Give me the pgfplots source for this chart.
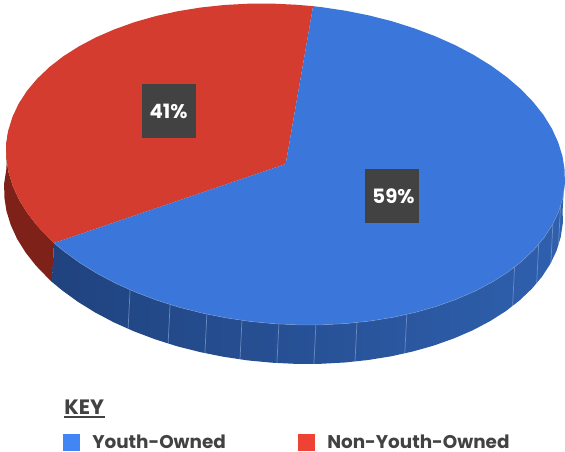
\documentclass[border=0pt]{standalone}
\usepackage{fontspec}
\setmainfont{Poppins}
\usepackage{pgfplots}
\pgfplotsset{compat=1.18}
\definecolor{blueTop}{HTML}{3B76DA}
\definecolor{redTop}{HTML}{D33C2E}
\definecolor{redSide}{HTML}{7E2119}
\definecolor{blueSideL}{HTML}{20437F}
\definecolor{blueSideR}{HTML}{2F60AE}
\definecolor{seam}{HTML}{7E9BCB}
\definecolor{boxGrey}{HTML}{424242}
\definecolor{keyBlue}{HTML}{4285F4}
\definecolor{keyRed}{HTML}{EE4235}
\tikzset{seamline/.style={draw=seam, line width=0.55pt, opacity=0.75}}
\begin{document}
\begin{tikzpicture}
\path[use as bounding box] (0,0) rectangle (423.75pt,339pt);
\begin{axis}[
  scale only axis, width=423.75pt, height=339pt,
  xmin=0, xmax=565, ymin=0, ymax=452, y dir=reverse,
  hide axis, clip=true,
]
% rim of the red slice
\addplot[draw=none, fill=redSide, mark=none] coordinates {
 (8.3,130.4) (6.2,144.2) (6.3,158.2) (8.5,172.2) (12.8,186.1) (19.1,199.9) (27.6,213.5)
 (37.9,226.6) (50.2,239.3) (54,243)
 (52,282) (48.2,278.3) (35.9,265.6) (25.6,252.5) (17.1,238.9) (10.8,225.1) (6.5,211.2)
 (4.3,197.2) (4.2,183.2) (6.3,169.4)
};
% rim of the blue slice
\addplot[draw=none, left color=blueSideL, right color=blueSideR, mark=none] coordinates {
 (54,243) (64.2,251.4) (79.9,262.8) (97.2,273.5) (115.9,283.4) (135.9,292.3) (157.1,300.3)
 (179.2,307.3) (202.2,313.1) (225.7,317.8) (249.7,321.4) (274,323.7) (298.4,324.9)
 (322.7,324.8) (346.7,323.5) (370.2,321) (393.1,317.3) (415.2,312.4) (436.3,306.4)
 (456.2,299.3) (474.9,291.2) (492.1,282.1) (507.7,272.2) (521.6,261.4) (533.8,249.8)
 (544,237.7) (552.3,224.9) (558.6,211.7) (562.7,198.1) (564.8,184.3) (564.7,170.3)
 (562.7,209.3) (562.8,223.3) (560.7,237.1) (556.6,250.7) (550.3,263.9) (542,276.7)
 (531.8,288.8) (519.6,300.4) (505.7,311.2) (490.1,321.1) (472.9,330.2) (454.2,338.3)
 (434.3,345.4) (413.2,351.4) (391.1,356.3) (368.2,360) (344.7,362.5) (320.7,363.8)
 (296.4,363.9) (272,362.7) (247.7,360.4) (223.7,356.8) (200.2,352.1) (177.2,346.3)
 (155.1,339.3) (133.9,331.3) (113.9,322.4) (95.2,312.5) (77.9,301.8) (62.2,290.4) (52,282)
};
% seams between rim panels
\addplot[seamline, mark=none] coordinates {(130.1,289.7) (128.1,328.7)};
\addplot[seamline, mark=none] coordinates {(170.1,304.4) (168.1,343.4)};
\addplot[seamline, mark=none] coordinates {(206.9,314) (204.9,353)};
\addplot[seamline, mark=none] coordinates {(242,320.2) (240,359.2)};
\addplot[seamline, mark=none] coordinates {(278.9,324) (276.9,363)};
\addplot[seamline, mark=none] coordinates {(315.9,324.8) (313.9,363.8)};
\addplot[seamline, mark=none] coordinates {(357,322.4) (355,361.4)};
\addplot[seamline, mark=none] coordinates {(406.8,314.3) (404.8,353.3)};
\addplot[seamline, mark=none] coordinates {(514.6,266.8) (512.6,305.8)};
\addplot[seamline, mark=none] coordinates {(538.7,244) (536.7,283)};
\addplot[seamline, mark=none] coordinates {(552.9,223.6) (550.9,262.6)};
\addplot[seamline, mark=none] coordinates {(560.5,206) (558.5,245)};
% red slice, top face
\addplot[draw=none, fill=redTop, mark=none] coordinates {
 (285.7,164) (313.1,6.2) (297,4.8) (272.6,3.6) (248.3,3.7) (224.3,5) (200.8,7.5) (177.9,11.2)
 (155.8,16.1) (134.7,22.1) (114.8,29.2) (96.1,37.3) (78.9,46.4) (63.3,56.3) (49.4,67.1)
 (37.2,78.7) (27,90.8) (18.7,103.6) (12.5,116.8) (8.3,130.4) (6.2,144.2) (6.3,158.2)
 (8.5,172.2) (12.8,186.1) (19.1,199.9) (27.6,213.5) (37.9,226.6) (50.2,239.3) (54,243)
};
% blue slice, top face
\addplot[draw=none, fill=blueTop, mark=none] coordinates {
 (285.7,164) (54,243) (64.2,251.4) (79.9,262.8) (97.2,273.5) (115.9,283.4) (135.9,292.3)
 (157.1,300.3) (179.2,307.3) (202.2,313.1) (225.7,317.8) (249.7,321.4) (274,323.7)
 (298.4,324.9) (322.7,324.8) (346.7,323.5) (370.2,321) (393.1,317.3) (415.2,312.4)
 (436.3,306.4) (456.2,299.3) (474.9,291.2) (492.1,282.1) (507.7,272.2) (521.6,261.4)
 (533.8,249.8) (544,237.7) (552.3,224.9) (558.6,211.7) (562.7,198.1) (564.8,184.3)
 (564.7,170.3) (562.5,156.3) (558.2,142.4) (551.9,128.6) (543.5,115) (533.1,101.9)
 (520.9,89.2) (506.8,77.1) (491.1,65.7) (473.8,55) (455.1,45.1) (435.1,36.2) (413.9,28.2)
 (391.8,21.2) (368.9,15.4) (345.3,10.7) (321.3,7.1) (313.1,6.2)
};
% pale edge along the front of the top face
\addplot[draw=seam, line width=0.4pt, opacity=0.7, mark=none] coordinates {
 (54,243) (64.2,251.4) (79.9,262.8) (97.2,273.5) (115.9,283.4) (135.9,292.3)
 (157.1,300.3) (179.2,307.3) (202.2,313.1) (225.7,317.8) (249.7,321.4) (274,323.7)
 (298.4,324.9) (322.7,324.8) (346.7,323.5) (370.2,321) (393.1,317.3) (415.2,312.4)
 (436.3,306.4) (456.2,299.3) (474.9,291.2) (492.1,282.1) (507.7,272.2) (521.6,261.4)
 (533.8,249.8) (544,237.7) (552.3,224.9) (558.6,211.7) (562.7,198.1) (564.8,184.3)
};
% value boxes
\addplot[draw=none, fill=boxGrey, mark=none] coordinates {(142,84) (196,84) (196,138) (142,138)};
\addplot[draw=none, fill=boxGrey, mark=none] coordinates {(365,169) (419,169) (419,223) (365,223)};
\node[text=white, font=\fontsize{14.8pt}{17pt}\selectfont\bfseries] at (axis cs:168.5,111) {41\%};
\node[text=white, font=\fontsize{14.8pt}{17pt}\selectfont\bfseries] at (axis cs:393.5,196) {59\%};
% key
\addplot[draw=none, fill=keyBlue, mark=none] coordinates {(63,434) (80,434) (80,451) (63,451)};
\addplot[draw=none, fill=keyRed, mark=none] coordinates {(298,434) (315,434) (315,451) (298,451)};
\addplot[draw=boxGrey, line width=0.9pt, mark=none] coordinates {(64,417) (105,417)};
\node[anchor=base west, inner sep=0pt, text=boxGrey, font=\fontsize{15.6pt}{17pt}\selectfont\bfseries] at (axis cs:64,415) {KEY};
\node[anchor=base west, inner sep=0pt, text=boxGrey, font=\fontsize{13.8pt}{16pt}\selectfont\bfseries] at (axis cs:92,449) {Youth-Owned};
\node[anchor=base west, inner sep=0pt, text=boxGrey, font=\fontsize{13.8pt}{16pt}\selectfont\bfseries] at (axis cs:327,449) {Non-Youth-Owned};
\end{axis}
\end{tikzpicture}
\end{document}
